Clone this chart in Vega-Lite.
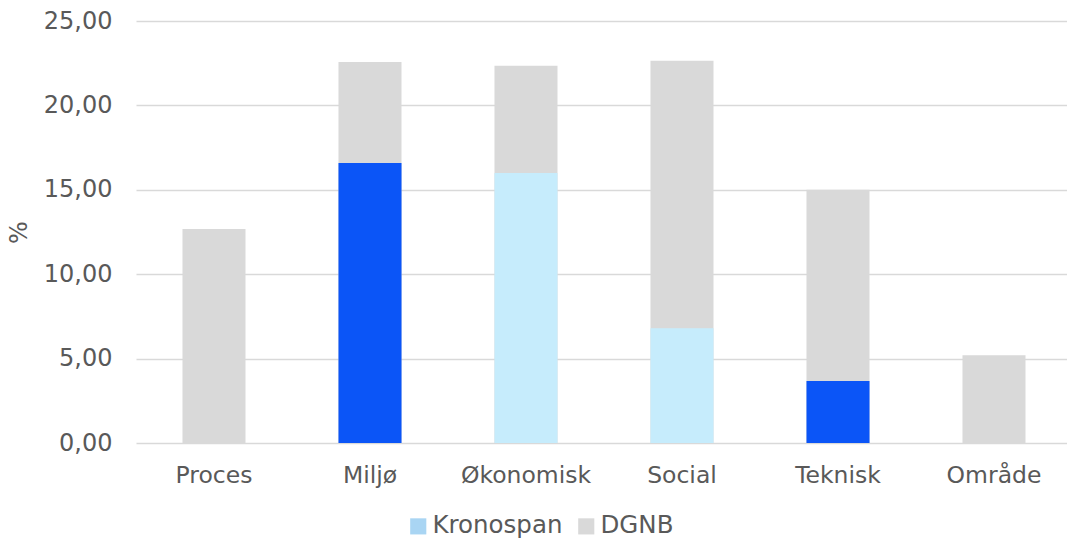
{
  "$schema": "https://vega.github.io/schema/vega-lite/v6.json",
  "width": 936,
  "height": 422,
  "autosize": {"type": "none"},
  "padding": {"left": 136, "top": 21, "right": 0, "bottom": 97},
  "background": "white",
  "config": {
    "font": "DejaVu Sans",
    "view": {"stroke": null},
    "axis": {"labelFont": "DejaVu Sans", "titleFont": "DejaVu Sans", "labelColor": "#595959", "titleColor": "#595959"}
  },
  "data": {
    "values": [
      {"kategori": "Proces", "DGNB": 12.68, "Kronospan": null, "gruppe": "lys"},
      {"kategori": "Miljø", "DGNB": 22.57, "Kronospan": 16.59, "gruppe": "mørk"},
      {"kategori": "Økonomisk", "DGNB": 22.35, "Kronospan": 16.0, "gruppe": "lys"},
      {"kategori": "Social", "DGNB": 22.65, "Kronospan": 6.8, "gruppe": "lys"},
      {"kategori": "Teknisk", "DGNB": 15.0, "Kronospan": 3.67, "gruppe": "mørk"},
      {"kategori": "Område", "DGNB": 5.2, "Kronospan": null, "gruppe": "lys"}
    ]
  },
  "encoding": {
    "x": {
      "field": "kategori",
      "type": "nominal",
      "sort": null,
      "scale": {"paddingInner": 0.596, "paddingOuter": 0.298, "align": 0.5},
      "axis": {"title": null, "labelAngle": 0, "labelFontSize": 23.5, "labelPadding": 20, "ticks": false, "domain": false}
    }
  },
  "layer": [
    {
      "mark": {"type": "bar"},
      "encoding": {
        "y": {
          "field": "DGNB",
          "type": "quantitative",
          "scale": {"domain": [0, 25], "nice": false},
          "axis": {
            "title": "%",
            "titleFontSize": 24,
            "titleFontWeight": "normal",
            "titlePadding": 12,
            "labelFontSize": 24,
            "labelPadding": 24,
            "values": [0, 5, 10, 15, 20, 25],
            "format": ".2f",
            "labelExpr": "replace(datum.label, '.', ',')",
            "ticks": false,
            "domain": false,
            "gridColor": "#D9D9D9",
            "gridWidth": 1.5
          }
        },
        "color": {
          "datum": "DGNB",
          "type": "nominal",
          "scale": {"domain": ["Kronospan", "DGNB"], "range": ["#A9D5F3", "#D9D9D9"]},
          "legend": {
            "title": null,
            "orient": "none",
            "direction": "horizontal",
            "legendX": 270,
            "legendY": 493,
            "symbolType": "square",
            "symbolSize": 260,
            "symbolStrokeWidth": 0,
            "labelFontSize": 24.5,
            "labelColor": "#595959",
            "labelFont": "DejaVu Sans",
            "labelOffset": 2,
            "columnPadding": 11
          }
        }
      }
    },
    {
      "mark": {"type": "bar"},
      "encoding": {
        "y": {"field": "Kronospan", "type": "quantitative"},
        "fill": {
          "field": "gruppe",
          "type": "nominal",
          "scale": {"domain": ["mørk", "lys"], "range": ["#0B55F7", "#C6ECFC"]},
          "legend": null
        }
      }
    }
  ]
}
